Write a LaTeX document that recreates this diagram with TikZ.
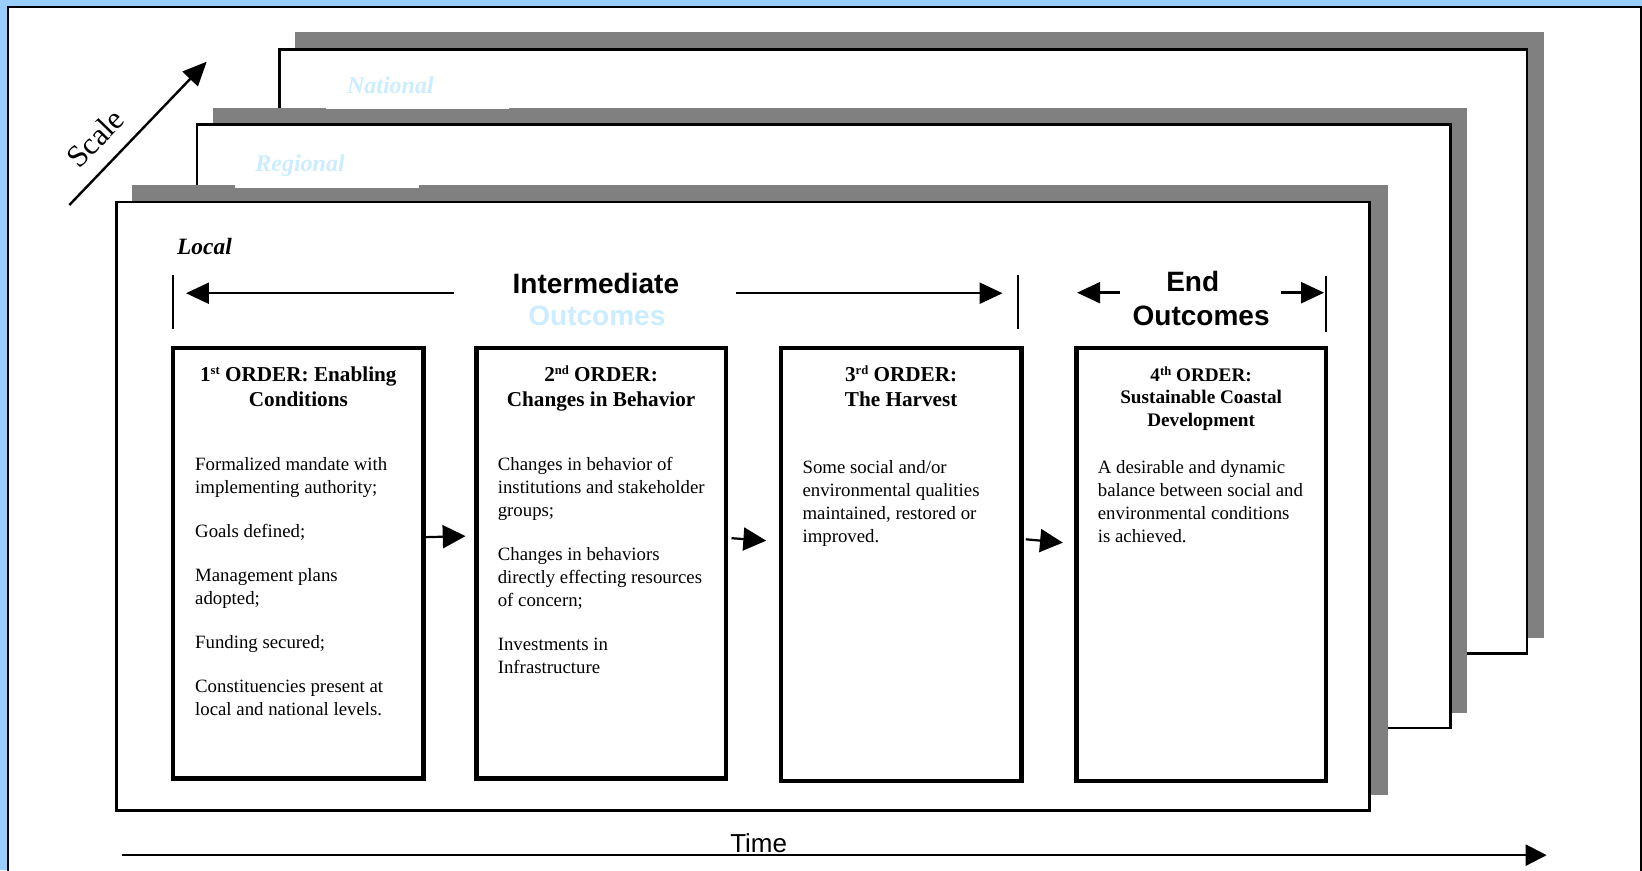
\documentclass[tikz,border=0pt]{standalone}
\usepackage{fontspec}
\setmainfont{Liberation Serif}
\setsansfont{Liberation Sans}
\usetikzlibrary{arrows.meta,calc,fit}
\definecolor{pageblue}{RGB}{153,204,255}
\definecolor{shadowgray}{RGB}{128,128,128}
\definecolor{paleblue}{RGB}{204,236,255}
% small raised ordinal suffix
\newcommand\ordsuffix[1]{\raisebox{0.32em}{\fontsize{6.3}{7}\selectfont #1}}
\begin{document}
\begin{tikzpicture}[x=0.5236pt,y=-0.5236pt,
  layerrect/.style={draw=black,line width=1.3pt,fill=white},
  layershadow/.style={fill=shadowgray},
  layerlabel/.style={anchor=base west,inner sep=0pt,font=\fontsize{12}{14}\selectfont\bfseries\itshape},
  orderbox/.style={draw=black,line width=2.15pt,inner sep=0pt},
  flow/.style={line width=1.1pt,-{Triangle[length=11.4pt,width=11.5pt]}},
  spanarrow/.style={line width=1.2pt,-{Triangle[length=11.5pt,width=10.5pt]}},
  spanbar/.style={line width=1.1pt},
  header/.style={anchor=base,inner sep=0pt,font=\fontsize{14}{16}\sffamily\bfseries},
  ordertitle/.style={anchor=base,inner sep=0pt,font=\fontsize{10.6}{12.5}\selectfont\bfseries},
  smalltitle/.style={anchor=base,inner sep=0pt,font=\fontsize{9.6}{11.1}\selectfont\bfseries},
  bodytext/.style={anchor=base west,inner sep=0pt,font=\fontsize{9.4}{11.5}\selectfont}]

\useasboundingbox (0,0) rectangle (1568,831);
\clip (0,0) rectangle (1568,831);

% page frame
\fill[pageblue] (0,0) rectangle (1568,831);
\draw[fill=white,line width=1pt] (8,7) rectangle (1567,850);

% National layer
\fill[layershadow] (282,31) rectangle (1474,609);
\draw[layerrect] (267,47) rectangle (1458,624);

% Regional layer
\fill[layershadow] (203,103) rectangle (1401,681);
\fill[white] (311,62) rectangle (486,104.5);
\node[layerlabel,text=paleblue] (national) at (331,89) {National};
\draw[layerrect] (188,119) rectangle (1385,695);

% Local layer
\fill[layershadow] (126,177) rectangle (1325,759);
\fill[white] (224.4,139) rectangle (400,179.5);
\node[layerlabel,text=paleblue] (regional) at (243.5,164) {Regional};
\draw[layerrect] (111,193) rectangle (1308,774);
\node[layerlabel,font=\fontsize{11.7}{14}\selectfont\bfseries\itshape] (local) at (168.8,243.5) {Local};

% Scale axis
\coordinate (scaletail) at (66.2,195.8);
\coordinate (scaletip) at (197.4,58.9);
\draw[line width=1.2pt,-{Triangle[length=12pt,width=10.5pt]}] (scaletail) -- (scaletip);
\node[rotate=46,inner sep=0pt,font=\fontsize{15.5}{18}\selectfont] (scale) at (91,132) {Scale};

% Time axis
\coordinate (timestart) at (116.8,816.6);
\coordinate (timeend) at (1477,816.6);
\draw[line width=1.1pt,-{Triangle[length=10.5pt,width=10.5pt]}] (timestart) -- (timeend);
\node[anchor=base,inner sep=0pt,font=\fontsize{13}{15}\sffamily] (time) at (724.5,814) {Time};

% Intermediate outcomes span
\node[header] (inter) at (569,280) {Intermediate};
\node[header,text=paleblue] (interout) at (570,310.4) {Outcomes};
\coordinate (ibarLt) at (165,262.6);
\coordinate (ibarLb) at (165,314);
\coordinate (ibarRt) at (972,263);
\coordinate (ibarRb) at (972,314);
\coordinate (iarrLs) at (433.6,280);
\coordinate (iarrLe) at (177.6,280);
\coordinate (iarrRs) at (703,280);
\coordinate (iarrRe) at (957.4,280);
\draw[spanbar] (ibarLt) -- (ibarLb);
\draw[spanbar] (ibarRt) -- (ibarRb);
\draw[spanarrow] (iarrLs) -- (iarrLe);
\draw[spanarrow] (iarrRs) -- (iarrRe);

% End outcomes span
\node[header] (endlbl) at (1139,278.5) {End};
\node[header] (endout) at (1147,310.4) {Outcomes};
\coordinate (ebarRt) at (1266,264);
\coordinate (ebarRb) at (1266,316.8);
\coordinate (earrLs) at (1069.6,279.5);
\coordinate (earrLe) at (1028.6,279.5);
\coordinate (earrRs) at (1223.5,279.5);
\coordinate (earrRe) at (1264.4,279.5);
\draw[spanbar] (ebarRt) -- (ebarRb);
\draw[spanarrow] (earrLs) -- (earrLe);
\draw[spanarrow] (earrRs) -- (earrRe);

% Order boxes
\node[orderbox,fit={(165.3,332.4) (404.4,743.5)}] (o1) {};
\node[orderbox,fit={(455,332.4) (693,743.5)}] (o2) {};
\node[orderbox,fit={(745.6,332.4) (975.5,746)}] (o3) {};
\node[orderbox,fit={(1028,332.4) (1266,746)}] (o4) {};

% Box titles
\node[ordertitle] (o1t) at (284.9,364.5) {\begin{tabular}[t]{@{}c@{}}1\ordsuffix{st} ORDER: Enabling\\Conditions\end{tabular}};
\node[ordertitle] (o2t) at (574,364.5) {\begin{tabular}[t]{@{}c@{}}2\ordsuffix{nd} ORDER:\\Changes in Behavior\end{tabular}};
\node[ordertitle] (o3t) at (860.5,364.5) {\begin{tabular}[t]{@{}c@{}}3\ordsuffix{rd} ORDER:\\The Harvest\end{tabular}};
\node[smalltitle] (o4t) at (1147,364.5) {\begin{tabular}[t]{@{}c@{}}4\ordsuffix{th} ORDER:\\Sustainable Coastal\\Development\end{tabular}};

% Box contents
\node[bodytext] (o1b) at (186,449) {\begin{tabular}[t]{@{}l@{}}Formalized mandate with\\implementing authority;\\[10.6pt]Goals defined;\\[10.6pt]Management plans\\adopted;\\[10.6pt]Funding secured;\\[10.6pt]Constituencies present at\\local and national levels.\end{tabular}};
\node[bodytext] (o2b) at (475,449) {\begin{tabular}[t]{@{}l@{}}Changes in behavior of\\institutions and stakeholder\\groups;\\[10.6pt]Changes in behaviors\\directly effecting resources\\of concern;\\[10.6pt]Investments in\\Infrastructure\end{tabular}};
\node[bodytext] (o3b) at (766,452) {\begin{tabular}[t]{@{}l@{}}Some social and/or\\environmental qualities\\maintained, restored or\\improved.\end{tabular}};
\node[bodytext] (o4b) at (1048,452) {\begin{tabular}[t]{@{}l@{}}A desirable and dynamic\\balance between social and\\environmental conditions\\is achieved.\end{tabular}};

% Progression between orders
\draw[flow] ($(o1.east)+(0,-25)$) -- ($(o2.west)+(-8.4,-26)$);
\draw[flow] ($(o2.east)+(3.5,-24)$) -- ($(o3.west)+(-11.9,-22.9)$);
\draw[flow] ($(o3.east)+(2,-24.2)$) -- ($(o4.west)+(-11,-21)$);

\end{tikzpicture}
\end{document}
